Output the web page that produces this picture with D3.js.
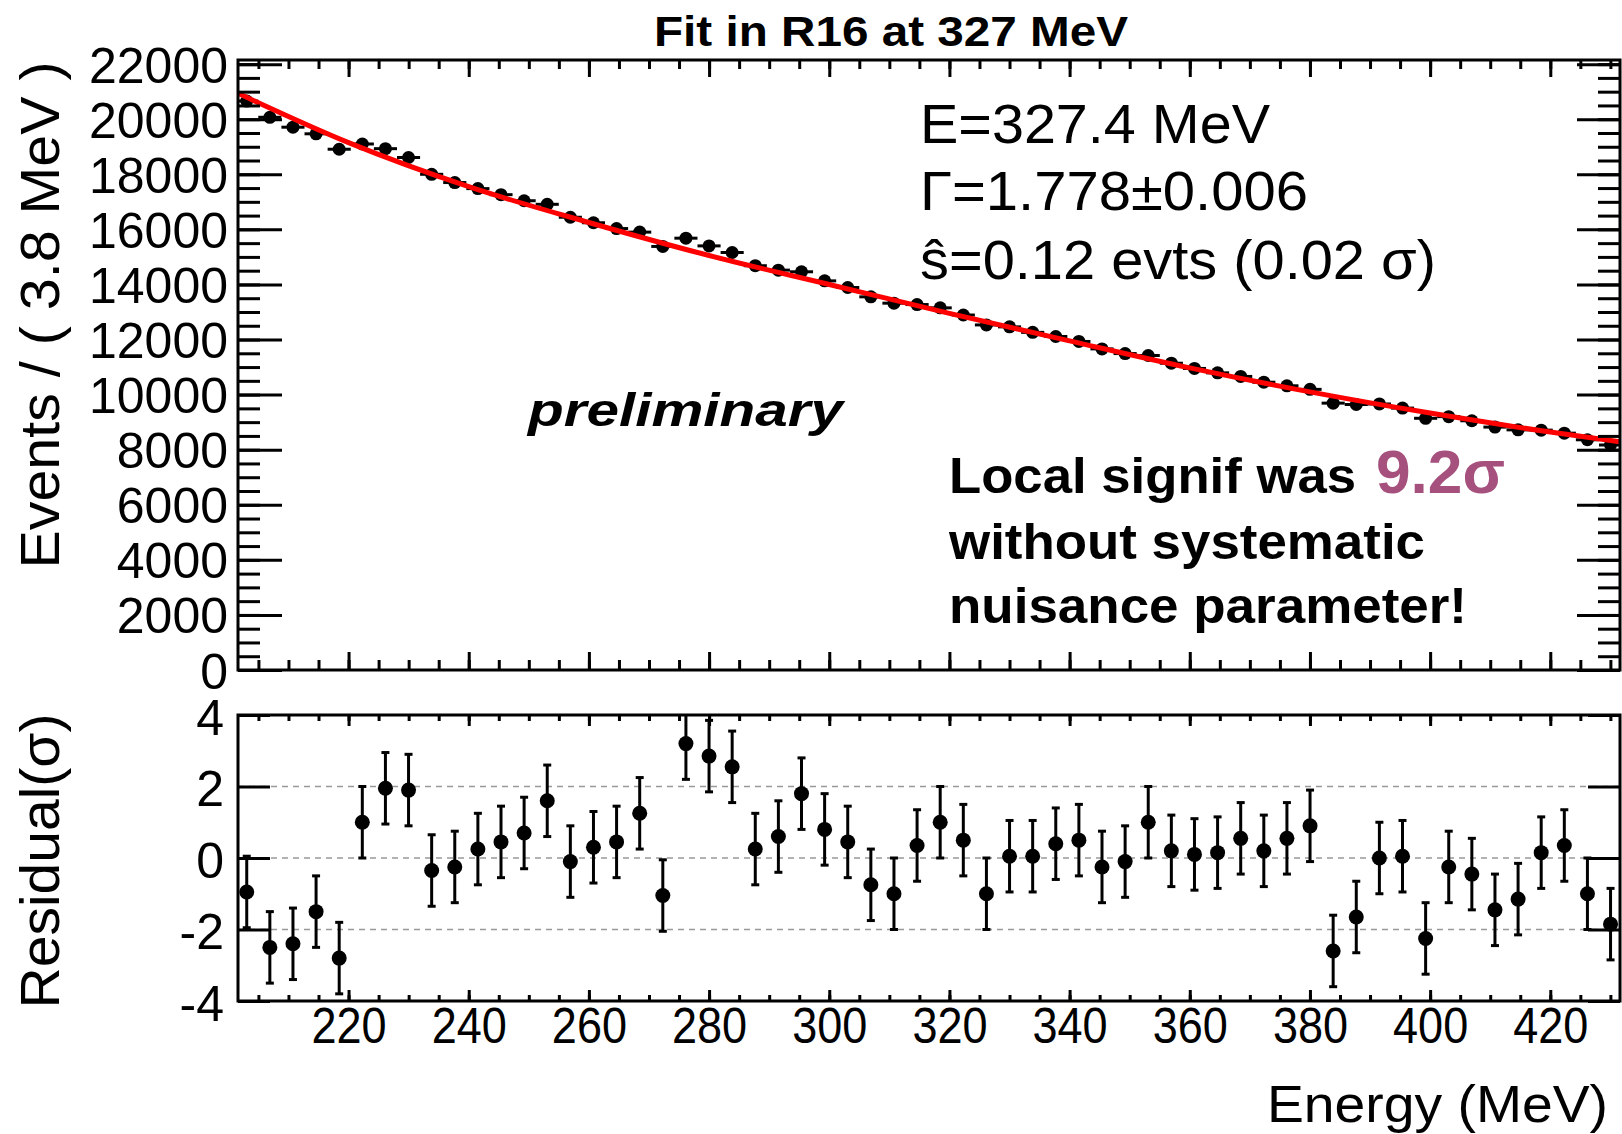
<!DOCTYPE html>
<html>
<head>
<meta charset="utf-8">
<script src="https://cdn.jsdelivr.net/npm/d3@7"></script>
<style>
  body { margin: 0; background: #fff; }
  text { font-family: "Liberation Sans", Arial, Helvetica, sans-serif; }
</style>
</head>
<body>
<div id="chart"></div>
<script>
const width = 1622, height = 1134;

// histogram binning (60 bins of ~3.8 MeV)
const binStart = 201.13;
const binWidth = 3.847;

// events per bin
const counts = [
  20660, 20070, 19710, 19470, 18910, 19100, 18930, 18610, 18000, 17700,
  17480, 17260, 17040, 16910, 16440, 16240, 16030, 15900, 15380, 15680,
  15400, 15160, 14680, 14520, 14460, 14130, 13890, 13550, 13320, 13270,
  13150, 12890, 12530, 12460, 12260, 12110, 11930, 11660, 11490, 11420,
  11140, 10950, 10790, 10660, 10450, 10320, 10190, 9690, 9640, 9660,
  9510, 9140, 9200, 9050, 8820, 8720, 8710, 8600, 8360, 8170
];

// pulls in the lower panel
const residuals = [
  -0.95, -2.5, -2.4, -1.5, -2.8, 1.0, 1.95, 1.9, -0.35, -0.25,
  0.25, 0.45, 0.7, 1.6, -0.1, 0.3, 0.45, 1.25, -1.05, 3.2,
  2.85, 2.55, 0.25, 0.6, 1.8, 0.8, 0.45, -0.75, -1.0, 0.35,
  1.0, 0.5, -1.0, 0.05, 0.05, 0.4, 0.5, -0.25, -0.1, 1.0,
  0.2, 0.1, 0.15, 0.55, 0.2, 0.55, 0.9, -2.6, -1.65, 0.0,
  0.05, -2.25, -0.25, -0.45, -1.45, -1.15, 0.15, 0.35, -1.0, -1.85
];

// background fit (red curve)
const fitEnergy = [201.6, 220, 240, 260, 280, 300, 320, 340, 360, 380, 400, 420, 431.6];
const fitCounts = [20940, 19150, 17550, 16250, 15050, 14000, 12950, 11950, 10970, 10100, 9330, 8640, 8290];

const countMajor = d3.range(0, 22001, 2000);
const countMinor = d3.range(0, 22001, 500);
const residualMajor = [-4, -2, 0, 2, 4];
const residualGrid = [-2, 0, 2];
const energyMajor = d3.range(220, 421, 20);
const energyMinor = d3.range(205, 431, 5);

const bins = counts.map((c, i) => ({
  energy: binStart + (i + 0.5) * binWidth,
  count: c,
  pull: residuals[i]
}));

const upper = { left: 238, right: 1620, top: 60, bottom: 670 };
const lower = { left: 238, right: 1620, top: 715, bottom: 1001 };

const x = d3.scaleLinear().domain([201.6, 431.6]).range([upper.left, upper.right]);
const yTop = d3.scaleLinear().domain([0, 22150]).range([upper.bottom, upper.top]);
const yRes = d3.scaleLinear().domain([-4, 4]).range([lower.bottom, lower.top]);

const svg = d3.select("#chart")
  .append("svg")
    .attr("width", width)
    .attr("height", height);

const defs = svg.append("defs");
defs.append("clipPath").attr("id", "clipTop")
  .append("rect")
    .attr("x", upper.left).attr("y", upper.top)
    .attr("width", upper.right - upper.left).attr("height", upper.bottom - upper.top);
defs.append("clipPath").attr("id", "clipBot")
  .append("rect")
    .attr("x", lower.left).attr("y", lower.top)
    .attr("width", lower.right - lower.left).attr("height", lower.bottom - lower.top);

// squeeze helper: the original fonts look slightly condensed
const squeeze = (sel, k) => sel.each(function () {
  const w = this.getComputedTextLength();
  d3.select(this).attr("textLength", w * k).attr("lengthAdjust", "spacingAndGlyphs");
});

const noDomain = g => g.select(".domain").remove();
const plain = d => String(d);   // ROOT style: ascii hyphen for negatives

// ---------- upper panel ----------
const topData = svg.append("g").attr("clip-path", "url(#clipTop)");

topData.selectAll(".xerr")
  .data(bins)
  .join("line")
    .attr("class", "xerr")
    .attr("x1", d => x(d.energy - binWidth / 2))
    .attr("x2", d => x(d.energy + binWidth / 2))
    .attr("y1", d => yTop(d.count))
    .attr("y2", d => yTop(d.count))
    .attr("stroke", "#000")
    .attr("stroke-width", 3);

topData.selectAll(".yerr")
  .data(bins)
  .join("line")
    .attr("class", "yerr")
    .attr("x1", d => x(d.energy))
    .attr("x2", d => x(d.energy))
    .attr("y1", d => yTop(d.count - Math.sqrt(d.count)))
    .attr("y2", d => yTop(d.count + Math.sqrt(d.count)))
    .attr("stroke", "#000")
    .attr("stroke-width", 3);

topData.selectAll(".pt")
  .data(bins)
  .join("circle")
    .attr("class", "pt")
    .attr("cx", d => x(d.energy))
    .attr("cy", d => yTop(d.count))
    .attr("r", 6.5)
    .attr("fill", "#000");

const fitLine = d3.line()
  .x(d => x(d[0]))
  .y(d => yTop(d[1]))
  .curve(d3.curveMonotoneX);

topData.append("path")
  .attr("d", fitLine(fitEnergy.map((e, i) => [e, fitCounts[i]])))
  .attr("fill", "none")
  .attr("stroke", "#ff0000")
  .attr("stroke-width", 5);

// frame + ticks
svg.append("rect")
  .attr("x", upper.left).attr("y", upper.top)
  .attr("width", upper.right - upper.left).attr("height", upper.bottom - upper.top)
  .attr("fill", "none").attr("stroke", "#000").attr("stroke-width", 3);

const tickStyle = g => g.selectAll(".tick line").attr("stroke", "#000").attr("stroke-width", 3);

svg.append("g").attr("transform", `translate(0,${upper.bottom})`)
  .call(d3.axisBottom(x).tickValues(energyMinor).tickSize(-10).tickFormat(""))
  .call(noDomain).call(tickStyle);
svg.append("g").attr("transform", `translate(0,${upper.bottom})`)
  .call(d3.axisBottom(x).tickValues(energyMajor).tickSize(-18).tickFormat(""))
  .call(noDomain).call(tickStyle);
svg.append("g").attr("transform", `translate(0,${upper.top})`)
  .call(d3.axisTop(x).tickValues(energyMinor).tickSize(-9).tickFormat(""))
  .call(noDomain).call(tickStyle);
svg.append("g").attr("transform", `translate(0,${upper.top})`)
  .call(d3.axisTop(x).tickValues(energyMajor).tickSize(-17).tickFormat(""))
  .call(noDomain).call(tickStyle);

svg.append("g").attr("transform", `translate(${upper.left},0)`)
  .call(d3.axisLeft(yTop).tickValues(countMinor).tickSize(-22).tickFormat(""))
  .call(noDomain).call(tickStyle);
const yTopAxis = svg.append("g").attr("transform", `translate(${upper.left},0)`)
  .call(d3.axisLeft(yTop).tickValues(countMajor).tickSize(-44).tickPadding(10).tickFormat(plain))
  .call(noDomain).call(tickStyle);
yTopAxis.selectAll("text")
  .attr("font-size", 50).attr("fill", "#000").attr("dy", "0.36em")
  .style("font-family", "'Liberation Sans', Arial, sans-serif");

svg.append("g").attr("transform", `translate(${upper.right},0)`)
  .call(d3.axisRight(yTop).tickValues(countMinor).tickSize(-22).tickFormat(""))
  .call(noDomain).call(tickStyle);
svg.append("g").attr("transform", `translate(${upper.right},0)`)
  .call(d3.axisRight(yTop).tickValues(countMajor).tickSize(-43).tickFormat(""))
  .call(noDomain).call(tickStyle);

// ---------- lower panel ----------
svg.append("g").selectAll("line")
  .data(residualGrid)
  .join("line")
    .attr("x1", lower.left).attr("x2", lower.right)
    .attr("y1", d => yRes(d)).attr("y2", d => yRes(d))
    .attr("stroke", "#999").attr("stroke-width", 1.6)
    .attr("stroke-dasharray", "6,5");

const botData = svg.append("g").attr("clip-path", "url(#clipBot)");

const pulls = botData.selectAll(".pull")
  .data(bins)
  .join("g")
    .attr("class", "pull");
pulls.append("line")
  .attr("x1", d => x(d.energy)).attr("x2", d => x(d.energy))
  .attr("y1", d => yRes(d.pull - 1)).attr("y2", d => yRes(d.pull + 1))
  .attr("stroke", "#000").attr("stroke-width", 3);
pulls.append("line")
  .attr("x1", d => x(d.energy) - 4).attr("x2", d => x(d.energy) + 4)
  .attr("y1", d => yRes(d.pull - 1)).attr("y2", d => yRes(d.pull - 1))
  .attr("stroke", "#000").attr("stroke-width", 3);
pulls.append("line")
  .attr("x1", d => x(d.energy) - 4).attr("x2", d => x(d.energy) + 4)
  .attr("y1", d => yRes(d.pull + 1)).attr("y2", d => yRes(d.pull + 1))
  .attr("stroke", "#000").attr("stroke-width", 3);
pulls.append("circle")
  .attr("cx", d => x(d.energy)).attr("cy", d => yRes(d.pull))
  .attr("r", 7.5).attr("fill", "#000");

svg.append("rect")
  .attr("x", lower.left).attr("y", lower.top)
  .attr("width", lower.right - lower.left).attr("height", lower.bottom - lower.top)
  .attr("fill", "none").attr("stroke", "#000").attr("stroke-width", 3);

svg.append("g").attr("transform", `translate(0,${lower.bottom})`)
  .call(d3.axisBottom(x).tickValues(energyMinor).tickSize(-6).tickFormat(""))
  .call(noDomain).call(tickStyle);
const xAxis = svg.append("g").attr("transform", `translate(0,${lower.bottom})`)
  .call(d3.axisBottom(x).tickValues(energyMajor).tickSize(-11).tickPadding(6).tickFormat(plain))
  .call(noDomain).call(tickStyle);
xAxis.selectAll("text")
  .attr("font-size", 50).attr("fill", "#000")
  .style("font-family", "'Liberation Sans', Arial, sans-serif")
  .call(squeeze, 0.9);

svg.append("g").attr("transform", `translate(0,${lower.top})`)
  .call(d3.axisTop(x).tickValues(energyMinor).tickSize(-6).tickFormat(""))
  .call(noDomain).call(tickStyle);
svg.append("g").attr("transform", `translate(0,${lower.top})`)
  .call(d3.axisTop(x).tickValues(energyMajor).tickSize(-11).tickFormat(""))
  .call(noDomain).call(tickStyle);

const yResAxis = svg.append("g").attr("transform", `translate(${lower.left},0)`)
  .call(d3.axisLeft(yRes).tickValues(residualMajor).tickSize(-32).tickPadding(14).tickFormat(plain))
  .call(noDomain).call(tickStyle);
yResAxis.selectAll("text")
  .attr("font-size", 50).attr("fill", "#000").attr("dy", "0.38em")
  .style("font-family", "'Liberation Sans', Arial, sans-serif");

svg.append("g").attr("transform", `translate(${lower.right},0)`)
  .call(d3.axisRight(yRes).tickValues(residualMajor).tickSize(-32).tickFormat(""))
  .call(noDomain).call(tickStyle);

// ---------- texts ----------
const label = (txt, xPos, yPos, size, len, opts = {}) => svg.append("text")
  .attr("x", xPos).attr("y", yPos)
  .attr("font-size", size)
  .attr("font-weight", opts.weight || "normal")
  .attr("font-style", opts.style || "normal")
  .attr("fill", opts.fill || "#000")
  .attr("text-anchor", opts.anchor || "start")
  .attr("textLength", len)
  .attr("lengthAdjust", "spacingAndGlyphs")
  .text(txt);

label("Fit in R16 at 327 MeV", 654, 46, 43, 474, { weight: "bold" });

label("E=327.4 MeV", 920, 143, 56, 350);
label("\u0393=1.778\u00b10.006", 920, 210, 56, 388);
label("\u015d=0.12 evts (0.02 \u03c3)", 920, 279, 56, 516);

label("preliminary", 528, 426, 47, 315, { weight: "bold", style: "italic" });

label("Local signif was", 949, 493, 50, 407, { weight: "bold" });
label("9.2\u03c3", 1376, 493, 61, 129, { weight: "bold", fill: "#a5507d" });
label("without systematic", 949, 559, 50, 476, { weight: "bold" });
label("nuisance parameter!", 949, 623, 50, 518, { weight: "bold" });

label("Energy (MeV)", 1608, 1122, 52, 341, { anchor: "end" });

svg.append("text")
  .attr("transform", "translate(59,315) rotate(-90)")
  .attr("text-anchor", "middle")
  .attr("font-size", 56)
  .attr("textLength", 507).attr("lengthAdjust", "spacingAndGlyphs")
  .text("Events / ( 3.8 MeV )");

svg.append("text")
  .attr("transform", "translate(59,861) rotate(-90)")
  .attr("text-anchor", "middle")
  .attr("font-size", 56)
  .attr("textLength", 295).attr("lengthAdjust", "spacingAndGlyphs")
  .text("Residual(\u03c3)");
</script>
</body>
</html>
